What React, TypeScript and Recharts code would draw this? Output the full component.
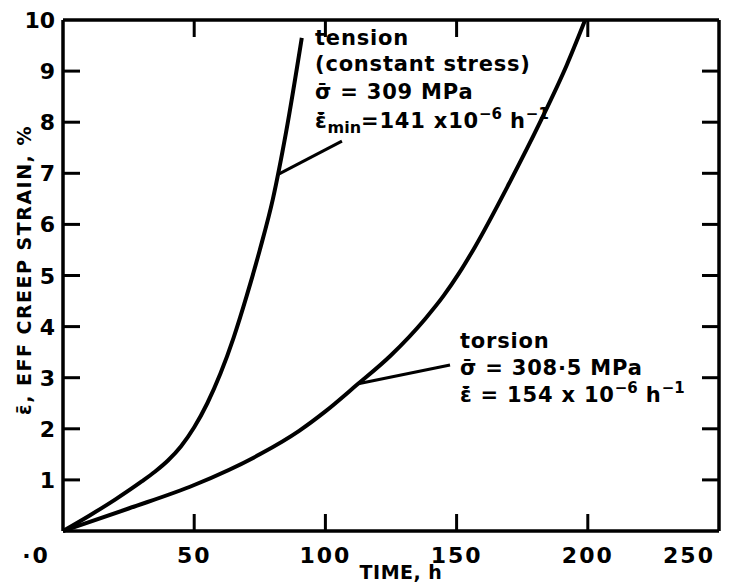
import React from 'react';
import { LineChart, Line, XAxis, YAxis, ReferenceLine } from 'recharts';

// Axis ticks
const timeTicks = [0, 50, 100, 150, 200, 250];
const strainTicks = [1, 2, 3, 4, 5, 6, 7, 8, 9, 10];
const innerTimeTicks = [50, 100, 150, 200];
const innerStrainTicks = [1, 2, 3, 4, 5, 6, 7, 8, 9];

// Tension test (constant stress): time h, effective creep strain %
const tensionTime = [0, 10, 20, 30, 35, 40, 45, 50, 55, 60, 65, 70, 75, 80, 85, 91];
const tensionStrain = [0, 0.3, 0.62, 0.97, 1.16, 1.38, 1.66, 2.03, 2.5, 3.08, 3.78, 4.6, 5.5, 6.5, 7.8, 9.65];

// Torsion test: time h, effective creep strain %
const torsionTime = [0, 25, 50, 75, 90, 100, 112, 125, 138, 145, 151, 157, 170, 182, 192, 199];
const torsionStrain = [0, 0.44, 0.9, 1.5, 1.96, 2.34, 2.86, 3.44, 4.15, 4.6, 5.05, 5.56, 6.8, 8.02, 9.12, 10];

// Leader lines from each curve to its caption (time, strain)
const tensionLeader = [{ x: 82, y: 6.98 }, { x: 106.3, y: 7.63 }];
const torsionLeader = [{ x: 112.5, y: 2.88 }, { x: 147.5, y: 3.25 }];

const tensionData = tensionTime.map((t, i) => ({ t, s: tensionStrain[i] }));
const torsionData = torsionTime.map((t, i) => ({ t, s: torsionStrain[i] }));

const X_MAX = 250;
const Y_MAX = 10;

const W = 722;
const H = 574;
const MARGIN = { top: 11, right: 10, bottom: 11, left: 10 };
const Y_AXIS_W = 45;
const X_AXIS_H = 40;
const PLOT_W = W - MARGIN.left - MARGIN.right - Y_AXIS_W - 1;
const PLOT_H = H - MARGIN.top - MARGIN.bottom - X_AXIS_H - 1;

const FONT = '"DejaVu Sans", sans-serif';
const TICK_LEN = 17;
// inward tick length expressed in axis units
const TICK_DX = (TICK_LEN * X_MAX) / PLOT_W;
const TICK_DY = (TICK_LEN * Y_MAX) / PLOT_H;
const frame = { stroke: '#000', strokeWidth: 3.5 };

const BottomTick = (props: any) => {
  const { x, y, payload } = props;
  const v = payload.value;
  let dx = 0;
  let anchor: 'middle' | 'end' = 'middle';
  if (v === 0) dx = -27;
  if (v === X_MAX) { anchor = 'end'; dx = -4; }
  return (
    <text x={Number(x) + dx} y={Number(y) + 32} textAnchor={anchor} fontFamily={FONT} fontWeight="bold" fontSize={22} letterSpacing={2} fill="#000">
      {v === 0 ? '\u00b70' : v}
    </text>
  );
};

const LeftTick = (props: any) => {
  const { x, y, payload } = props;
  return (
    <text x={Number(x) - 8} y={Number(y) + 8} textAnchor="end" fontFamily={FONT} fontWeight="bold" fontSize={22} fill="#000">
      {payload.value}
    </text>
  );
};

const NoLabel = () => null;

const txt = { fontFamily: FONT, fontWeight: 'bold' as const, fontSize: 21, letterSpacing: 0.8, fill: '#000' };
const sup = { fontSize: 15, letterSpacing: 0 };

const tickMark = (key: string, a: { x: number; y: number }, b: { x: number; y: number }) => (
  <ReferenceLine key={key} segment={[a, b]} stroke="#000" strokeWidth={3} ifOverflow="visible" />
);

export default function App() {
  return (
    <div style={{ position: 'relative', width: W, height: H, background: '#fff' }}>
      <LineChart width={W} height={H} margin={MARGIN}>
        <XAxis
          type="number"
          dataKey="t"
          domain={[0, X_MAX]}
          ticks={timeTicks}
          interval={0}
          height={X_AXIS_H}
          axisLine={frame}
          tickLine={false}
          tickSize={0}
          tickMargin={0}
          tick={<BottomTick />}
        />
        <XAxis
          xAxisId="top"
          orientation="top"
          type="number"
          domain={[0, X_MAX]}
          ticks={innerTimeTicks}
          height={1}
          axisLine={frame}
          tickLine={false}
          tick={<NoLabel />}
        />
        <YAxis
          type="number"
          domain={[0, Y_MAX]}
          ticks={strainTicks}
          interval={0}
          width={Y_AXIS_W}
          axisLine={frame}
          tickLine={false}
          tickSize={0}
          tickMargin={0}
          tick={<LeftTick />}
        />
        <YAxis
          yAxisId="right"
          orientation="right"
          type="number"
          domain={[0, Y_MAX]}
          ticks={innerStrainTicks}
          width={1}
          axisLine={frame}
          tickLine={false}
          tick={<NoLabel />}
        />
        {/* inward tick marks on all four sides of the frame */}
        {innerTimeTicks.map((v) => tickMark(`b${v}`, { x: v, y: 0 }, { x: v, y: TICK_DY }))}
        {innerTimeTicks.map((v) => tickMark(`t${v}`, { x: v, y: Y_MAX - TICK_DY }, { x: v, y: Y_MAX }))}
        {innerStrainTicks.map((v) => tickMark(`l${v}`, { x: 0, y: v }, { x: TICK_DX, y: v }))}
        {innerStrainTicks.map((v) => tickMark(`r${v}`, { x: X_MAX - TICK_DX, y: v }, { x: X_MAX, y: v }))}
        <ReferenceLine segment={tensionLeader} stroke="#000" strokeWidth={3} />
        <ReferenceLine segment={torsionLeader} stroke="#000" strokeWidth={3} />
        <Line data={tensionData} dataKey="s" type="monotone" stroke="#000" strokeWidth={4} dot={false} isAnimationActive={false} />
        <Line data={torsionData} dataKey="s" type="monotone" stroke="#000" strokeWidth={4} dot={false} isAnimationActive={false} />
      </LineChart>
      <svg width={W} height={H} style={{ position: 'absolute', left: 0, top: 0, pointerEvents: 'none' }}>
        {/* axis titles */}
        <text transform="rotate(-90)" x={-262} y={23} textAnchor="middle" fontFamily={FONT} fontWeight="bold" fontSize={19} letterSpacing={1.5} fill="#000">
          ε̄, EFF  CREEP  STRAIN, %
        </text>
        <text x={393} y={571} textAnchor="middle" fontFamily={FONT} fontWeight="bold" fontSize={19} letterSpacing={0.5} fill="#000">
          TIME, h
        </text>
        {/* tension caption */}
        <text x={307} y={37} {...txt}>tension</text>
        <text x={307} y={63} {...txt}>(constant stress)</text>
        <text x={307} y={91} {...txt}>σ̄ = 309 MPa</text>
        <text x={307} y={120} {...txt}>
          ε̄̇<tspan dy={5} fontSize={16} letterSpacing={0}>min</tspan>
          <tspan dy={-5}>=141 x10</tspan>
          <tspan dy={-9} {...sup}>−6</tspan>
          <tspan dy={9}> h</tspan>
          <tspan dy={-9} {...sup}>−1</tspan>
        </text>
        {/* torsion caption */}
        <text x={452} y={340} {...txt}>torsion</text>
        <text x={452} y={367} {...txt}>σ̄ = 308·5 MPa</text>
        <text x={452} y={394} {...txt}>
          ε̄̇ = 154 x 10
          <tspan dy={-9} {...sup}>−6</tspan>
          <tspan dy={9}> h</tspan>
          <tspan dy={-9} {...sup}>−1</tspan>
        </text>
      </svg>
    </div>
  );
}
